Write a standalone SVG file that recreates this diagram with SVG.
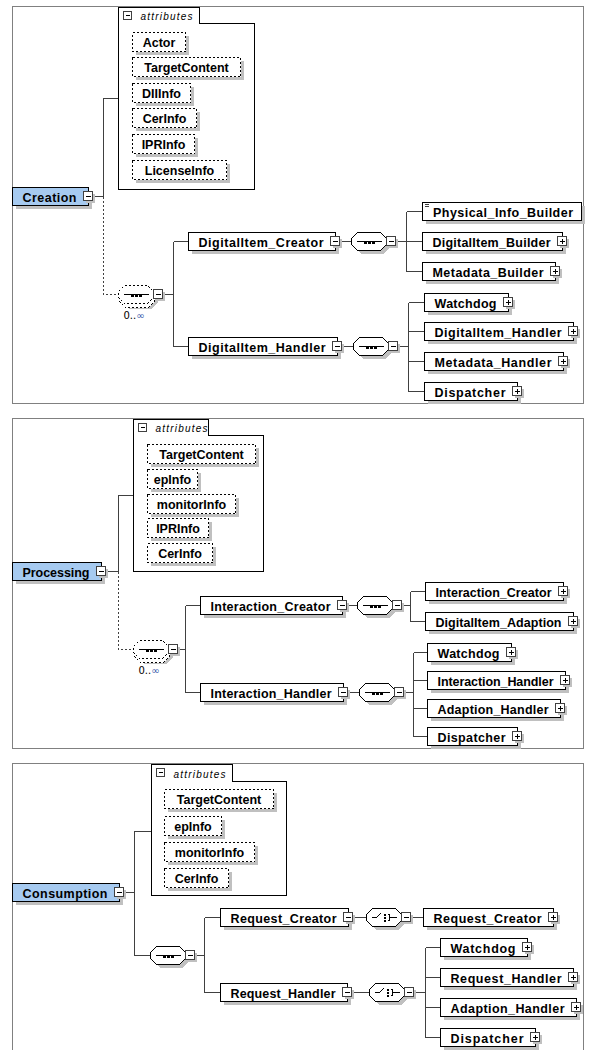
<svg xmlns="http://www.w3.org/2000/svg" xmlns:xlink="http://www.w3.org/1999/xlink" width="589" height="1050" viewBox="0 0 589 1050">
<style>
.pn{fill:none;stroke:#808080}
.sh{fill:#c0c0c0;stroke:none}
.el{fill:#fff;stroke:#000}
.rt{fill:#a6caf0;stroke:#000}
.ab{fill:#fff;stroke:#000}
.ad{fill:#fff;stroke:#000;stroke-dasharray:2,2}
.ln{fill:none;stroke:#404040}
.dl{fill:none;stroke:#404040;stroke-dasharray:2,2}
.t{font-family:"Liberation Sans","DejaVu Sans",sans-serif;font-weight:bold;font-size:12.5px;fill:#000;text-anchor:middle}
.it{font-family:"Liberation Sans","DejaVu Sans",sans-serif;font-style:italic;font-size:10px;letter-spacing:1.2px;fill:#000}
.oc{font-family:"DejaVu Sans","Liberation Sans",sans-serif;font-size:10px;fill:#000}
rect,path{shape-rendering:crispEdges}
</style>
<defs>
<g id="mn"><rect class="sh" x="-3" y="-3" width="9" height="9"/><rect x="-5" y="-5" width="9" height="9" fill="#fff" stroke="#404040"/><path d="M-3,0H2" stroke="#000"/></g>
<g id="pl"><rect class="sh" x="-3" y="-3" width="9" height="9"/><rect x="-5" y="-5" width="9" height="9" fill="#fff" stroke="#404040"/><path d="M-3,0H2M0,-3V2" stroke="#000"/></g>
<path id="oct" d="M6,0H29L35,6V12L29,18H6L0,12V6Z"/>
<g id="seqic"><path d="M5,9H30" stroke="#000"/><rect x="12" y="8" width="3" height="3" fill="#000"/><rect x="16" y="8" width="3" height="3" fill="#000"/><rect x="20" y="8" width="3" height="3" fill="#000"/></g>
<g id="sqc"><rect class="sh" x="37" y="6" width="9" height="9"/><rect x="35" y="4" width="9" height="9" fill="#fff" stroke="#404040"/><path d="M37,9H42" stroke="#000"/></g>
<g id="cseq"><use xlink:href="#oct" class="sh" x="3" y="3"/><use xlink:href="#oct" class="el"/><use xlink:href="#seqic"/><use xlink:href="#sqc"/></g>
<g id="cch"><use xlink:href="#oct" class="sh" x="3" y="3"/><use xlink:href="#oct" class="el"/><path d="M5,9H10L14,5M21,6H23V12H21M23,9H30" stroke="#000" fill="none"/><rect x="17" y="5" width="2" height="2" fill="#000"/><rect x="17" y="8" width="2" height="2" fill="#000"/><rect x="17" y="11" width="2" height="2" fill="#000"/><use xlink:href="#sqc"/></g>
<g id="copt"><use xlink:href="#oct" class="sh" x="4" y="5"/><use xlink:href="#oct" fill="#fff" stroke="#000" stroke-dasharray="2,2" x="1" y="4"/><use xlink:href="#oct" fill="#fff" stroke="#000" stroke-dasharray="2,2"/><use xlink:href="#seqic"/><use xlink:href="#sqc"/></g>
<g id="tabmn"><rect x="0" y="0" width="8" height="8" fill="#fff" stroke="#404040"/><path d="M2,4H6" stroke="#000"/></g>
</defs>
<rect x="0" y="0" width="589" height="1050" fill="#fff"/>
<g transform="translate(0.5,0.5)">
<g id="panels">
<rect class="pn" x="12" y="6" width="571" height="397"/>
<rect class="pn" x="12" y="418" width="571" height="330"/>
<path class="pn" d="M12,1052V763H583V1052"/>
</g>
<g id="connectors">
<path class="ln" d="M92,196H103M103,196V98H118"/>
<path class="dl" d="M103,196V294H118"/>
<path class="ln" d="M162,294H173M173,241V346M173,241H188M173,346H188"/>
<path class="ln" d="M339,241H351M395,241H406M406,211V271M406,211H422M406,241H422M406,271H422"/>
<path class="ln" d="M341,346H353M397,346H408M408,302V391M408,302H424M408,331H424M408,361H424M408,391H424"/>
<path class="ln" d="M105,571H118M118,571V495H133"/>
<path class="dl" d="M118,571V649H133"/>
<path class="ln" d="M177,649H185M185,605V692M185,605H200M185,692H200"/>
<path class="ln" d="M346,605H357M401,605H410M410,591V621M410,591H425M410,621H425"/>
<path class="ln" d="M347,692H359M403,692H413M413,652V736M413,652H427M413,680H427M413,708H427M413,736H427"/>
<path class="ln" d="M123,892H134M134,892V831H151M134,892V955H150"/>
<path class="ln" d="M194,955H204M204,917V992M204,917H220M204,992H220"/>
<path class="ln" d="M352,917H366M410,917H423"/>
<path class="ln" d="M351,992H369M413,992H425M425,947V1037M425,947H440M425,977H440M425,1007H440M425,1037H440"/>
</g>

<g id="attrs1">
<path class="ab" d="M118,7H199V23H254V189H118Z"/>
<use xlink:href="#tabmn" x="123" y="11"/>
<text class="it" x="140" y="19">attributes</text>
<g id="a1-actor"><rect class="sh" x="135" y="35" width="53" height="19"/><rect class="ad" x="132" y="32" width="53" height="19"/><text class="t" x="158.5" y="46">Actor</text></g>
<g id="a1-target"><rect class="sh" x="135" y="60" width="108" height="19"/><rect class="ad" x="132" y="57" width="108" height="19"/><text class="t" x="186" y="71">TargetContent</text></g>
<g id="a1-dii"><rect class="sh" x="135" y="86" width="58" height="19"/><rect class="ad" x="132" y="83" width="58" height="19"/><text class="t" x="161" y="97">DIIInfo</text></g>
<g id="a1-cer"><rect class="sh" x="135" y="111" width="64" height="19"/><rect class="ad" x="132" y="108" width="64" height="19"/><text class="t" x="164" y="122">CerInfo</text></g>
<g id="a1-ipr"><rect class="sh" x="135" y="137" width="62" height="19"/><rect class="ad" x="132" y="134" width="62" height="19"/><text class="t" x="163" y="148">IPRInfo</text></g>
<g id="a1-lic"><rect class="sh" x="135" y="163" width="94" height="19"/><rect class="ad" x="132" y="160" width="94" height="19"/><text class="t" x="179" y="174">LicenseInfo</text></g>
</g>
<g id="creation"><rect class="sh" x="15" y="190" width="76" height="18"/><rect class="rt" x="12" y="187" width="76" height="18"/><text class="t" x="49" y="201" textLength="54" lengthAdjust="spacing">Creation</text><use xlink:href="#mn" x="88" y="196"/></g>
<g id="comp1"><use xlink:href="#copt" x="118" y="285"/><text class="oc" x="123" y="318">0..<tspan fill="#3355aa">∞</tspan></text></g>
<g id="di-creator"><rect class="sh" x="191" y="235" width="147" height="18"/><rect class="el" x="188" y="232" width="147" height="18"/><text class="t" x="260.5" y="246" textLength="125" lengthAdjust="spacing">DigitalItem_Creator</text><use xlink:href="#mn" x="335" y="241"/></g>
<g id="comp1a"><use xlink:href="#cseq" x="351" y="232"/></g>
<g id="phys"><rect class="sh" x="425" y="205" width="159" height="18"/><rect class="el" x="422" y="202" width="159" height="18"/><path d="M424,204H428M424,206H428" stroke="#404040"/><text class="t" x="502.5" y="216" textLength="140" lengthAdjust="spacing">Physical_Info_Builder</text></g>
<g id="di-builder"><rect class="sh" x="425" y="235" width="140" height="18"/><rect class="el" x="422" y="232" width="140" height="18"/><text class="t" x="491" y="246" textLength="118" lengthAdjust="spacing">DigitalItem_Builder</text><use xlink:href="#pl" x="562" y="241"/></g>
<g id="md-builder"><rect class="sh" x="425" y="265" width="133" height="18"/><rect class="el" x="422" y="262" width="133" height="18"/><text class="t" x="487.5" y="276" textLength="111" lengthAdjust="spacing">Metadata_Builder</text><use xlink:href="#pl" x="555" y="271"/></g>
<g id="di-handler"><rect class="sh" x="191" y="340" width="149" height="18"/><rect class="el" x="188" y="337" width="149" height="18"/><text class="t" x="261.5" y="351" textLength="127" lengthAdjust="spacing">DigitalItem_Handler</text><use xlink:href="#mn" x="337" y="346"/></g>
<g id="comp1b"><use xlink:href="#cseq" x="353" y="337"/></g>
<g id="watchdog1"><rect class="sh" x="427" y="296" width="84" height="18"/><rect class="el" x="424" y="293" width="84" height="18"/><text class="t" x="465" y="307" textLength="62" lengthAdjust="spacing">Watchdog</text><use xlink:href="#pl" x="508" y="302"/></g>
<g id="di-handler2"><rect class="sh" x="427" y="325" width="149" height="18"/><rect class="el" x="424" y="322" width="149" height="18"/><text class="t" x="497.5" y="336" textLength="127" lengthAdjust="spacing">DigitalItem_Handler</text><use xlink:href="#pl" x="573" y="331"/></g>
<g id="md-handler"><rect class="sh" x="427" y="355" width="139" height="18"/><rect class="el" x="424" y="352" width="139" height="18"/><text class="t" x="492.5" y="366" textLength="117" lengthAdjust="spacing">Metadata_Handler</text><use xlink:href="#pl" x="563" y="361"/></g>
<g id="dispatcher1"><rect class="sh" x="427" y="385" width="93" height="18"/><rect class="el" x="424" y="382" width="93" height="18"/><text class="t" x="469.5" y="396" textLength="71" lengthAdjust="spacing">Dispatcher</text><use xlink:href="#pl" x="517" y="391"/></g>

<g id="attrs2">
<path class="ab" d="M133,419H208V435H263V571H133Z"/>
<use xlink:href="#tabmn" x="138" y="423"/>
<text class="it" x="155" y="431">attributes</text>
<g id="a2-target"><rect class="sh" x="150" y="447" width="108" height="19"/><rect class="ad" x="147" y="444" width="108" height="19"/><text class="t" x="201" y="458">TargetContent</text></g>
<g id="a2-ep"><rect class="sh" x="150" y="472" width="50" height="19"/><rect class="ad" x="147" y="469" width="50" height="19"/><text class="t" x="172" y="483">epInfo</text></g>
<g id="a2-mon"><rect class="sh" x="150" y="497" width="88" height="19"/><rect class="ad" x="147" y="494" width="88" height="19"/><text class="t" x="191" y="508">monitorInfo</text></g>
<g id="a2-ipr"><rect class="sh" x="150" y="521" width="61" height="19"/><rect class="ad" x="147" y="518" width="61" height="19"/><text class="t" x="177.5" y="532">IPRInfo</text></g>
<g id="a2-cer"><rect class="sh" x="150" y="546" width="65" height="19"/><rect class="ad" x="147" y="543" width="65" height="19"/><text class="t" x="179.5" y="557">CerInfo</text></g>
</g>
<g id="processing"><rect class="sh" x="15" y="565" width="89" height="18"/><rect class="rt" x="12" y="562" width="89" height="18"/><text class="t" x="55.5" y="576" textLength="67" lengthAdjust="spacing">Processing</text><use xlink:href="#mn" x="101" y="571"/></g>
<g id="comp2"><use xlink:href="#copt" x="133" y="640"/><text class="oc" x="138" y="673">0..<tspan fill="#3355aa">∞</tspan></text></g>
<g id="int-creator"><rect class="sh" x="203" y="599" width="142" height="18"/><rect class="el" x="200" y="596" width="142" height="18"/><text class="t" x="270" y="610" textLength="120" lengthAdjust="spacing">Interaction_Creator</text><use xlink:href="#mn" x="342" y="605"/></g>
<g id="comp2a"><use xlink:href="#cseq" x="357" y="596"/></g>
<g id="int-creator2"><rect class="sh" x="428" y="585" width="138" height="18"/><rect class="el" x="425" y="582" width="138" height="18"/><text class="t" x="493" y="596" textLength="116" lengthAdjust="spacing">Interaction_Creator</text><use xlink:href="#pl" x="563" y="591"/></g>
<g id="di-adaption"><rect class="sh" x="428" y="615" width="148" height="18"/><rect class="el" x="425" y="612" width="148" height="18"/><text class="t" x="498" y="626" textLength="126" lengthAdjust="spacing">DigitalItem_Adaption</text><use xlink:href="#pl" x="573" y="621"/></g>
<g id="int-handler"><rect class="sh" x="203" y="686" width="143" height="18"/><rect class="el" x="200" y="683" width="143" height="18"/><text class="t" x="270.5" y="697" textLength="121" lengthAdjust="spacing">Interaction_Handler</text><use xlink:href="#mn" x="343" y="692"/></g>
<g id="comp2b"><use xlink:href="#cseq" x="359" y="683"/></g>
<g id="watchdog2"><rect class="sh" x="430" y="646" width="84" height="18"/><rect class="el" x="427" y="643" width="84" height="18"/><text class="t" x="468" y="657" textLength="62" lengthAdjust="spacing">Watchdog</text><use xlink:href="#pl" x="511" y="652"/></g>
<g id="int-handler2"><rect class="sh" x="430" y="674" width="138" height="18"/><rect class="el" x="427" y="671" width="138" height="18"/><text class="t" x="495" y="685" textLength="116" lengthAdjust="spacing">Interaction_Handler</text><use xlink:href="#pl" x="565" y="680"/></g>
<g id="ad-handler2"><rect class="sh" x="430" y="702" width="133" height="18"/><rect class="el" x="427" y="699" width="133" height="18"/><text class="t" x="492.5" y="713" textLength="111" lengthAdjust="spacing">Adaption_Handler</text><use xlink:href="#pl" x="560" y="708"/></g>
<g id="dispatcher2"><rect class="sh" x="430" y="730" width="90" height="18"/><rect class="el" x="427" y="727" width="90" height="18"/><text class="t" x="471" y="741" textLength="68" lengthAdjust="spacing">Dispatcher</text><use xlink:href="#pl" x="517" y="736"/></g>

<g id="attrs3">
<path class="ab" d="M151,764H232V781H286V895H151Z"/>
<use xlink:href="#tabmn" x="156" y="768"/>
<text class="it" x="173" y="777">attributes</text>
<g id="a3-target"><rect class="sh" x="167" y="792" width="109" height="19"/><rect class="ad" x="164" y="789" width="109" height="19"/><text class="t" x="218.5" y="803">TargetContent</text></g>
<g id="a3-ep"><rect class="sh" x="167" y="819" width="57" height="19"/><rect class="ad" x="164" y="816" width="57" height="19"/><text class="t" x="192.5" y="830">epInfo</text></g>
<g id="a3-mon"><rect class="sh" x="167" y="845" width="90" height="19"/><rect class="ad" x="164" y="842" width="90" height="19"/><text class="t" x="209" y="856">monitorInfo</text></g>
<g id="a3-cer"><rect class="sh" x="167" y="871" width="64" height="19"/><rect class="ad" x="164" y="868" width="64" height="19"/><text class="t" x="196" y="882">CerInfo</text></g>
</g>
<g id="consumption"><rect class="sh" x="15" y="886" width="107" height="18"/><rect class="rt" x="12" y="883" width="107" height="18"/><text class="t" x="64.5" y="897" textLength="85" lengthAdjust="spacing">Consumption</text><use xlink:href="#mn" x="119" y="892"/></g>
<g id="comp3"><use xlink:href="#cseq" x="150" y="946"/></g>
<g id="req-creator"><rect class="sh" x="223" y="911" width="128" height="18"/><rect class="el" x="220" y="908" width="128" height="18"/><text class="t" x="283" y="922" textLength="106" lengthAdjust="spacing">Request_Creator</text><use xlink:href="#mn" x="348" y="917"/></g>
<g id="comp3a"><use xlink:href="#cch" x="366" y="908"/></g>
<g id="req-creator2"><rect class="sh" x="426" y="911" width="130" height="18"/><rect class="el" x="423" y="908" width="130" height="18"/><text class="t" x="487" y="922" textLength="108" lengthAdjust="spacing">Request_Creator</text><use xlink:href="#pl" x="553" y="917"/></g>
<g id="req-handler"><rect class="sh" x="223" y="986" width="127" height="18"/><rect class="el" x="220" y="983" width="127" height="18"/><text class="t" x="282.5" y="997" textLength="105" lengthAdjust="spacing">Request_Handler</text><use xlink:href="#mn" x="347" y="992"/></g>
<g id="comp3b"><use xlink:href="#cch" x="369" y="983"/></g>
<g id="watchdog3"><rect class="sh" x="443" y="941" width="87" height="18"/><rect class="el" x="440" y="938" width="87" height="18"/><text class="t" x="482.5" y="952" textLength="65" lengthAdjust="spacing">Watchdog</text><use xlink:href="#pl" x="527" y="947"/></g>
<g id="req-handler2"><rect class="sh" x="443" y="971" width="133" height="18"/><rect class="el" x="440" y="968" width="133" height="18"/><text class="t" x="505.5" y="982" textLength="111" lengthAdjust="spacing">Request_Handler</text><use xlink:href="#pl" x="573" y="977"/></g>
<g id="ad-handler3"><rect class="sh" x="443" y="1001" width="136" height="18"/><rect class="el" x="440" y="998" width="136" height="18"/><text class="t" x="507" y="1012" textLength="114" lengthAdjust="spacing">Adaption_Handler</text><use xlink:href="#pl" x="576" y="1007"/></g>
<g id="dispatcher3"><rect class="sh" x="443" y="1031" width="95" height="18"/><rect class="el" x="440" y="1028" width="95" height="18"/><text class="t" x="486.5" y="1042" textLength="73" lengthAdjust="spacing">Dispatcher</text><use xlink:href="#pl" x="535" y="1037"/></g>
</g>
</svg>
